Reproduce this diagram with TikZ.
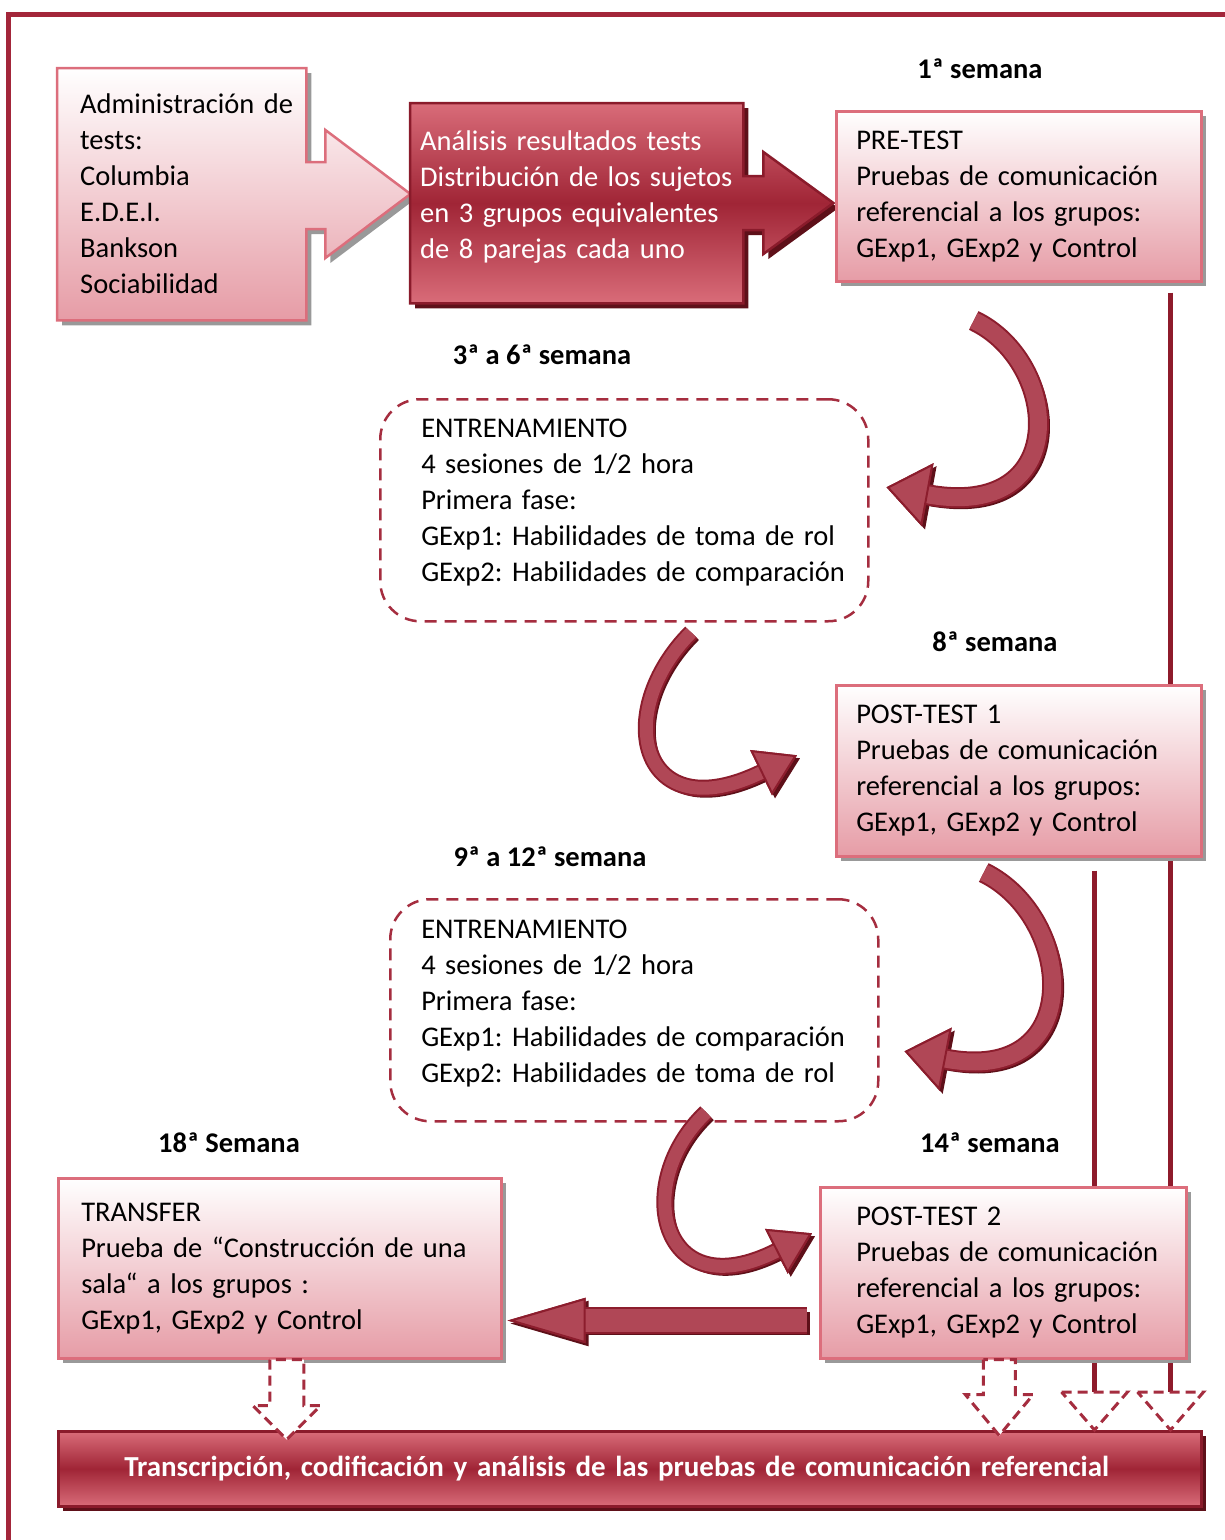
\documentclass[tikz,border=0pt]{standalone}
\usepackage{fontspec}
\setmainfont{Carlito}
\usepackage{tikz}
\usetikzlibrary{arrows.meta,positioning,calc,shadows,backgrounds}

\definecolor{framered}{HTML}{A3263A}
\definecolor{boxedge}{HTML}{DC6E7C}
\definecolor{boxpink}{HTML}{E69CA6}
\definecolor{redlight}{HTML}{D96C79}
\definecolor{reddark}{HTML}{A02536}
\definecolor{darkedge}{HTML}{8A1B2B}
\definecolor{dashred}{HTML}{A52D3F}
\definecolor{arrowfill}{HTML}{B04756}
\definecolor{arrowedge}{HTML}{8C1D2D}
\definecolor{arrowshade}{HTML}{5E1019}
\definecolor{linered}{HTML}{8E1B2B}

\newcommand{\boxfont}{\fontsize{28.5}{36}\selectfont\frenchspacing}
\newcommand{\wideline}[1]{\makebox[0pt][l]{#1}}

\begin{document}
\begin{tikzpicture}[
    x=1pt, y=-1pt,
    font=\boxfont,
    lightfill/.style={draw=boxedge, line width=2.5pt, top color=white, bottom color=boxpink,
        drop shadow={shadow xshift=5pt, shadow yshift=-5pt, fill=black!40, opacity=1}},
    darkfill/.style={draw=darkedge, line width=2.5pt, top color=redlight, bottom color=redlight, middle color=reddark,
        drop shadow={shadow xshift=5pt, shadow yshift=-5pt, fill=arrowshade, opacity=1}},
    lightbox/.style={lightfill, anchor=north west, align=left},
    plainbox/.style={anchor=north west, align=left},
    trainbox/.style={draw=dashred, line width=2.5pt, dash pattern=on 12pt off 8pt, rounded corners=40pt, fill=white, anchor=north west, align=left},
    weeklabel/.style={font=\boxfont\bfseries},
    bentarrow/.style n args={3}{draw=arrowfill, line width=#1,
        -{Triangle[length=#2, width=#3, line width=2pt, color=arrowedge, fill=arrowfill]},
        preaction={draw=arrowshade, line width=#1, -{Triangle[length=#2, width=#3, line width=2pt]}, transform canvas={shift={(3pt,-3pt)}}},
        preaction={draw=arrowedge, line width=#1+4pt}},
    feedline/.style={draw=linered, line width=5pt},
    hollowarrow/.style={draw=dashred, line width=3pt, dash pattern=on 10pt off 6pt, fill=white}
]
    \useasboundingbox (0,0) rectangle (1225,1540);

    % week labels
    \node[weeklabel] (wkone) at (980,69) {1ª semana};
    \node[weeklabel] (wkthree) at (542,355) {3ª a 6ª semana};
    \node[weeklabel] (wkeight) at (995,642) {8ª semana};
    \node[weeklabel] (wknine) at (550,857) {9ª a 12ª semana};
    \node[weeklabel] (wkfourteen) at (990,1143) {14ª semana};
    \node[weeklabel] (wkeighteen) at (229,1143) {18ª Semana};

    % first row
    \node[plainbox, minimum width=249pt, minimum height=252pt, text width=203pt, inner xsep=23pt] (admin) at (57,68)
        {\wideline{Administración de}\\ tests:\\ Columbia\\ E.D.E.I.\\ Bankson\\ Sociabilidad};
    \node[plainbox, text=white, minimum width=333pt, minimum height=200pt, text width=313pt, inner xsep=10pt,
        text height=20pt, text depth=126pt] (analysis) at (410,103)
        {Análisis resultados tests\\ Distribución de los sujetos\\ en 3 grupos equivalentes\\ de 8 parejas cada uno};
    \node[lightbox, minimum width=365pt, minimum height=170pt, text width=325pt, inner xsep=20pt] (pretest) at (835,110)
        {PRE-TEST\\ Pruebas de comunicación\\ referencial a los grupos:\\ GExp1, GExp2 y Control};

    % training and post-tests
    \node[trainbox, minimum width=488pt, minimum height=222pt, text width=406pt, inner xsep=41pt,
        text height=20pt, text depth=166pt] (trainone) at (379,398)
        {ENTRENAMIENTO\\ 4 sesiones de 1/2 hora\\ Primera fase:\\ \wideline{GExp1: Habilidades de toma de rol}\\ \wideline{GExp2: Habilidades de comparación}};
    \node[lightbox, minimum width=365pt, minimum height=171pt, text width=325pt, inner xsep=20pt] (posttestone) at (835,684)
        {POST-TEST 1\\ Pruebas de comunicación\\ referencial a los grupos:\\ GExp1, GExp2 y Control};
    \node[trainbox, minimum width=488pt, minimum height=222pt, text width=426pt, inner xsep=31pt,
        text height=20pt, text depth=164pt] (traintwo) at (389,898)
        {ENTRENAMIENTO\\ 4 sesiones de 1/2 hora\\ Primera fase:\\ \wideline{GExp1: Habilidades de comparación}\\ \wideline{GExp2: Habilidades de toma de rol}};
    \node[lightbox, minimum width=366pt, minimum height=171pt, text width=294pt, inner xsep=36pt] (posttesttwo) at (819,1186)
        {POST-TEST 2\\ \wideline{Pruebas de comunicación}\\ \wideline{referencial a los grupos:}\\ \wideline{GExp1, GExp2 y Control}};
    \node[lightbox, minimum width=443pt, minimum height=180pt, text width=397pt, inner xsep=23pt] (transfer) at (57,1177)
        {TRANSFER\\ Prueba de “Construcción de una\\ sala“ a los grupos :\\ GExp1, GExp2 y Control};

    % bottom bar
    \node[darkfill, anchor=north west, align=left, text=white, font={\fontsize{29}{36}\selectfont\frenchspacing\bfseries},
        minimum width=1143pt, minimum height=75pt, text width=1011pt, inner xsep=66pt] (final) at (57,1430)
        {\wideline{Transcripción, codificación y análisis de las pruebas de comunicación referencial}};

    \begin{scope}[on background layer]
        \draw[framered, line width=5pt] (8,1540) -- (8,14) -- (1225,14);
        \draw[lightfill] (admin.north west) -- (admin.north east) -- ++(0,94) -- ++(19,0) -- ++(0,-32) -- ++(85,64)
            -- ++(-85,64) -- ++(0,-29) -- ++(-19,0) -- (admin.south east) -- (admin.south west) -- cycle;
        \draw[darkfill] (analysis.north west) -- (analysis.north east) -- ++(0,73) -- ++(20,0) -- ++(0,-24) -- ++(70,51)
            -- ++(-70,51) -- ++(0,-24) -- ++(-20,0) -- (analysis.south east) -- (analysis.south west) -- cycle;
        \draw[feedline] ($(pretest.south east)+(-32,10)$) -- ($(final.north east)+(-32,-38)$);
        \draw[feedline] ($(posttestone.south east)+(-108,13)$) -- ($(final.north east)+(-108,-38)$);
    \end{scope}

    % bent arrows
    \draw[bentarrow={17pt}{42pt}{64pt}] ($(pretest.south)+(-45,38)$) .. controls +(88,42) and +(186,34) .. ($(trainone.east)+(17,-23)$);
    \draw[bentarrow={13pt}{40pt}{50pt}] ($(trainone.south)+(67,10)$) .. controls +(-80,80) and +(-157,76) .. ($(posttestone.west)+(-38,-15.5)$);
    \draw[bentarrow={17pt}{42pt}{64pt}] ($(posttestone.south)+(-35,15)$) .. controls +(92,45) and +(183,35) .. ($(traintwo.east)+(25,41)$);
    \draw[bentarrow={13pt}{40pt}{50pt}] ($(traintwo.south)+(72,-10)$) .. controls +(-75,70) and +(-152,77) .. ($(posttesttwo.west)+(-7,-39.5)$);
    \draw[bentarrow={23pt}{78pt}{45pt}] ($(posttesttwo.south west)+(-12,-39)$) -- ($(transfer.south east)+(5,-39)$);

    % hollow arrows into the bar
    \draw[hollowarrow] ($(transfer.south)+(-10,0)$) -- ++(0,46) -- ++(-17,0) -- ++(34,34) -- ++(34,-34) -- ++(-17,0) -- ++(0,-46) -- cycle;
    \draw[hollowarrow] ($(posttesttwo.south)+(-20,0)$) -- ++(0,35) -- ++(-18,0) -- ++(34,41) -- ++(34,-41) -- ++(-18,0) -- ++(0,-35) -- cycle;
    \foreach \dx in {-32,-108}
        \draw[hollowarrow] ($(final.north east)+(\dx-33,-38)$) -- ++(66,0) -- ++(-33,38) -- cycle;

\end{tikzpicture}
\end{document}
